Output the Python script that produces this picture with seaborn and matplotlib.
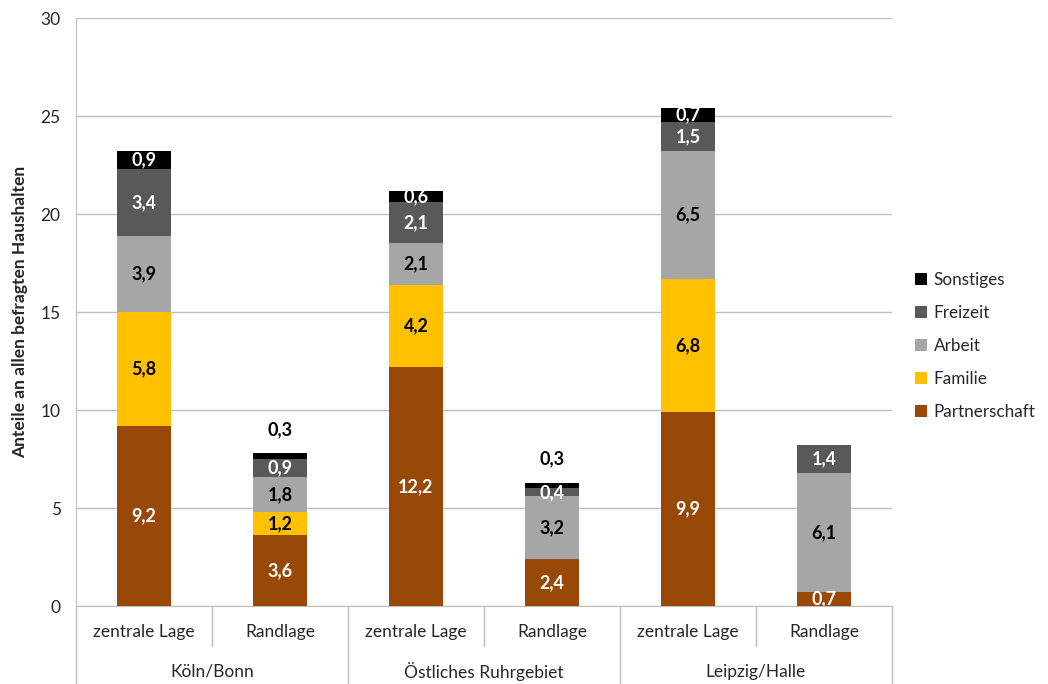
import numpy as np
import pandas as pd
import matplotlib.pyplot as plt
import matplotlib.transforms as mtransforms
import seaborn as sns

# Data
regions = ['Köln/Bonn', 'Östliches Ruhrgebiet', 'Leipzig/Halle']
locations = ['zentrale Lage', 'Randlage']
series = ['Partnerschaft', 'Familie', 'Arbeit', 'Freizeit', 'Sonstiges']

partnerschaft = [9.2, 3.6, 12.2, 2.4, 9.9, 0.7]
familie = [5.8, 1.2, 4.2, 0.0, 6.8, 0.0]
arbeit = [3.9, 1.8, 2.1, 3.2, 6.5, 6.1]
freizeit = [3.4, 0.9, 2.1, 0.4, 1.5, 1.4]
sonstiges = [0.9, 0.3, 0.6, 0.3, 0.7, 0.0]

colors = ['#984807', '#FFC000', '#A6A6A6', '#595959', '#000000']
label_colors = ['white', 'black', 'black', 'white', 'white']
grid_color = '#BFBFBF'

sns.set_style('white')
plt.rcParams['font.family'] = ['Lato', 'DejaVu Sans']

# Build a long table with cumulative tops for the stacked bars
bar_keys = [f'{r}\n{l}' for r in regions for l in locations]
values = np.array([partnerschaft, familie, arbeit, freizeit, sonstiges])
tops = np.cumsum(values, axis=0)
rows = []
for j, name in enumerate(series):
    for i, key in enumerate(bar_keys):
        rows.append({'bar': key, 'series': name, 'value': values[j, i],
                     'bottom': tops[j, i] - values[j, i], 'top': tops[j, i]})
df = pd.DataFrame(rows)

fig = plt.figure(figsize=(10.48, 6.84), dpi=100)
ax = fig.add_axes([0.0725, 0.114, 0.7786, 0.8596])

# Draw the highest layer first so lower layers cover it
for j in reversed(range(len(series))):
    sub = df[df['series'] == series[j]]
    sns.barplot(data=sub, x='bar', y='top', order=bar_keys, color=colors[j],
                saturation=1, width=0.4, linewidth=0, label=series[j], ax=ax, zorder=3)

# Value labels
for _, row in df.iterrows():
    if row['value'] == 0:
        continue
    i = bar_keys.index(row['bar'])
    j = series.index(row['series'])
    txt = f"{row['value']:.1f}".replace('.', ',')
    if row['value'] <= 0.3:
        y, c = tops[-1, i] + 1.2, 'black'
    else:
        y, c = row['bottom'] + row['value'] / 2, label_colors[j]
    ax.text(i, y, txt, ha='center', va='center', color=c, fontsize=13,
            fontweight='bold', zorder=5, clip_on=True)

ax.set_ylim(0, 30)
ax.set_xlim(-0.5, 5.5)
ax.set_yticks(np.arange(0, 31, 5))
ax.tick_params(axis='y', labelsize=12.5, length=5, color=grid_color, pad=6)
ax.tick_params(axis='x', length=0, labelbottom=False)
ax.grid(axis='y', color=grid_color, linewidth=1, zorder=0)
ax.set_axisbelow(True)
for side in ['top', 'right']:
    ax.spines[side].set_visible(False)
for side in ['left', 'bottom']:
    ax.spines[side].set_color(grid_color)
ax.set_xlabel('')
ax.set_ylabel('Anteile an allen befragten Haushalten', fontsize=12.5,
              fontweight='bold', labelpad=9)

# Two-level category axis
trans = mtransforms.blended_transform_factory(ax.transData, ax.transAxes)
for x in [-0.5, 1.5, 3.5, 5.5]:
    ax.plot([x, x], [0, -0.133], transform=trans, clip_on=False,
            color=grid_color, linewidth=1)
for x in [0.5, 2.5, 4.5]:
    ax.plot([x, x], [0, -0.068], transform=trans, clip_on=False,
            color=grid_color, linewidth=1)
for i, key in enumerate(bar_keys):
    ax.text(i, -0.044, key.split('\n')[1], transform=trans, ha='center',
            va='center', fontsize=12.5)
for g, region in enumerate(regions):
    ax.text(2 * g + 0.5, -0.112, region, transform=trans, ha='center',
            va='center', fontsize=12.5)

ax.legend(loc='center left', bbox_to_anchor=(1.009, 0.442), frameon=False,
          handlelength=0.7, handleheight=0.7, handletextpad=0.4,
          labelspacing=1.0, fontsize=12.3)

fig.savefig('out.png', dpi=100)
